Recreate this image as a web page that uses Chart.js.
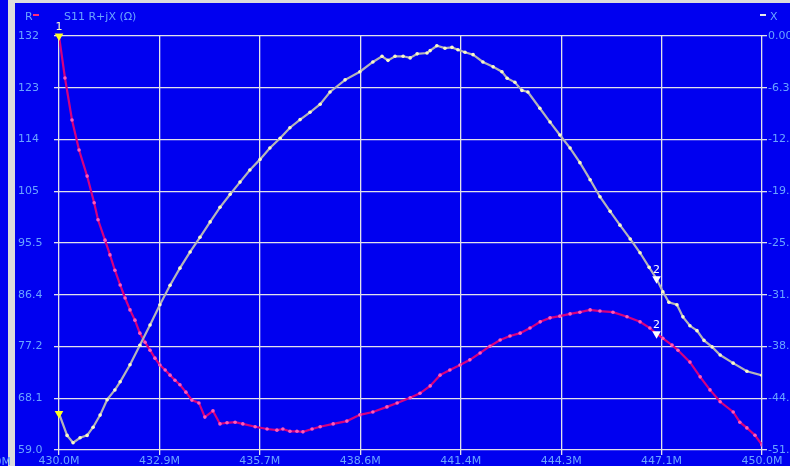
<!DOCTYPE html>
<html>
<head>
<meta charset="utf-8">
<script src="https://cdn.jsdelivr.net/npm/chart.js@4/dist/chart.umd.min.js"></script>
<style>
  html, body { margin: 0; padding: 0; background: #0000f0; overflow: hidden; }
  #wrap { width: 790px; height: 466px; position: relative; }
  canvas { display: block; }
</style>
</head>
<body>
<div id="wrap"><canvas id="c" width="790" height="466"></canvas></div>
<script>
// S11 impedance sweep, 430–450 MHz
const rFreq = [430.00,430.17,430.37,430.57,430.80,431.00,431.11,431.31,431.45,431.59,431.74,431.88,432.02,432.16,432.30,432.45,432.59,432.73,432.87,433.02,433.16,433.30,433.44,433.61,433.78,433.98,434.15,434.38,434.58,434.78,435.01,435.23,435.58,435.92,436.20,436.37,436.57,436.77,436.94,437.20,437.43,437.80,438.19,438.56,438.93,439.33,439.62,439.99,440.27,440.56,440.84,441.12,441.41,441.69,441.98,442.26,442.55,442.83,443.12,443.40,443.69,443.97,444.25,444.54,444.82,445.11,445.39,445.76,446.16,446.53,446.81,447.00,447.18,447.44,447.61,447.95,448.24,448.52,448.81,449.18,449.37,449.57,449.80,450.00];
const rOhm = [132.0,124.6,117.2,111.9,107.3,102.6,99.6,96.0,93.4,90.7,88.1,85.8,83.7,81.9,79.6,78.0,76.6,75.2,74.0,73.1,72.2,71.3,70.5,69.2,67.8,67.3,64.8,65.9,63.6,63.8,63.9,63.6,63.1,62.7,62.5,62.7,62.3,62.3,62.2,62.7,63.1,63.6,64.1,65.2,65.7,66.6,67.3,68.2,69.0,70.3,72.2,73.1,74.0,74.9,76.1,77.3,78.4,79.1,79.6,80.5,81.6,82.3,82.6,83.0,83.3,83.7,83.5,83.3,82.5,81.6,80.5,79.5,78.7,77.5,76.6,74.5,71.9,69.6,67.5,65.7,63.9,62.9,61.6,59.9];

const xFreq = [430.00,430.23,430.40,430.60,430.80,430.97,431.17,431.37,431.59,431.74,432.02,432.30,432.59,432.87,433.16,433.44,433.73,434.01,434.30,434.58,434.87,435.15,435.43,435.72,436.00,436.29,436.57,436.86,437.14,437.43,437.71,438.14,438.56,438.93,439.19,439.36,439.56,439.79,439.99,440.19,440.47,440.56,440.75,440.98,441.18,441.35,441.55,441.78,442.06,442.35,442.60,442.75,442.97,443.17,443.34,443.68,443.97,444.25,444.54,444.82,445.11,445.39,445.68,445.96,446.25,446.53,446.79,447.00,447.18,447.35,447.58,447.75,447.95,448.15,448.35,448.58,448.81,449.18,449.57,450.00];
const xOhm = [-46.5,-49.2,-50.1,-49.5,-49.2,-48.2,-46.7,-44.8,-43.6,-42.6,-40.5,-38.1,-35.6,-33.1,-30.7,-28.6,-26.6,-24.8,-22.9,-21.1,-19.5,-18.0,-16.5,-15.2,-13.8,-12.6,-11.3,-10.3,-9.4,-8.4,-6.9,-5.4,-4.4,-3.2,-2.5,-3.0,-2.5,-2.5,-2.7,-2.2,-2.1,-1.8,-1.2,-1.5,-1.4,-1.7,-2.0,-2.3,-3.2,-3.8,-4.4,-5.2,-5.7,-6.7,-6.9,-8.9,-10.6,-12.2,-13.8,-15.6,-17.7,-19.8,-21.6,-23.3,-25.0,-26.7,-28.5,-29.9,-31.5,-32.8,-33.1,-34.6,-35.7,-36.3,-37.5,-38.3,-39.3,-40.3,-41.3,-41.8];

// markers 1 and 2
const markerNames = ['1', '2'];
const markerFreq = [430.0, 447.0];
const markerR = [132.0, 79.5];
const markerX = [-46.5, -29.9];
const markerColors = ['#ffff20', '#ffffff'];

// axis ticks
const xTickVals = [430, 432.857, 435.714, 438.571, 441.429, 444.286, 447.143, 450];
const xTickLabels = ['430.0M', '432.9M', '435.7M', '438.6M', '441.4M', '444.3M', '447.1M', '450.0M'];
const rTickVals = [59, 68.125, 77.25, 86.375, 95.5, 104.625, 113.75, 122.875, 132];
const rTickLabels = ['59.0', '68.1', '77.2', '86.4', '95.5', '105', '114', '123', '132'];
const xrTickVals = [-51, -44.625, -38.25, -31.875, -25.5, -19.125, -12.75, -6.375, 0];
const xrTickLabels = ['-51.0', '-44.6', '-38.3', '-31.9', '-25.5', '-19.1', '-12.8', '-6.38', '0.00'];

const BG = '#0000f0';
const GRID = '#e2e2ea';
const TXT = '#6aa4ff';
const FONT = { family: '"DejaVu Sans", Verdana, sans-serif', size: 11 };
const FONT_CSS = '11px "DejaVu Sans", Verdana, sans-serif';

const frame = {
  id: 'frame',
  beforeDraw(chart) {
    const ctx = chart.ctx;
    ctx.save();
    ctx.fillStyle = BG;
    ctx.fillRect(0, 0, chart.width, chart.height);
    ctx.fillStyle = '#dcdcdc';
    ctx.fillRect(8, 0, 7, chart.height);
    ctx.fillRect(8, 0, chart.width - 8, 3);
    ctx.restore();
  },
  afterDraw(chart) {
    const ctx = chart.ctx;
    ctx.save();
    ctx.font = FONT_CSS;
    ctx.textBaseline = 'middle';
    // legend row
    ctx.fillStyle = TXT;
    ctx.textAlign = 'left';
    ctx.fillText('R', 25, 17);
    ctx.fillText('S11 R+jX (\u03A9)', 64, 17);
    ctx.fillText('X', 770, 17);
    ctx.fillStyle = '#ff2a7a';
    ctx.fillRect(33, 14, 6, 2);
    ctx.fillStyle = '#e8e8e8';
    ctx.fillRect(760, 14, 6, 2);
    // neighbouring panel edge label
    ctx.fillStyle = TXT;
    ctx.textAlign = 'right';
    ctx.fillText('450.0M', 11, 462);
    ctx.restore();
  },
  afterDatasetsDraw(chart) {
    // marker numbers above the R and X marker triangles
    const ctx = chart.ctx;
    ctx.save();
    ctx.font = FONT_CSS;
    ctx.textAlign = 'center';
    ctx.textBaseline = 'bottom';
    chart.data.datasets.forEach((ds, di) => {
      if (!ds.isMarker) return;
      const meta = chart.getDatasetMeta(di);
      meta.data.forEach((pt, i) => {
        if (ds.yAxisID === 'yX' && i === 0) return;
        ctx.fillStyle = i === 0 ? '#ffffc8' : '#ffffff';
        ctx.fillText(markerNames[i], pt.x, pt.y - 3);
      });
    });
    ctx.restore();
  }
};

const pts = (fs, vs) => fs.map((f, i) => ({ x: f, y: vs[i] }));

new Chart(document.getElementById('c'), {
  type: 'line',
  data: {
    datasets: [
      {
        label: 'R', data: pts(rFreq, rOhm), yAxisID: 'yR', order: 2,
        borderColor: '#d6007f', borderWidth: 2.2, tension: 0,
        pointRadius: 1.8, pointBorderWidth: 0, pointBackgroundColor: '#ff5ab8'
      },
      {
        label: 'X', data: pts(xFreq, xOhm), yAxisID: 'yX', order: 1,
        borderColor: '#b4b4b8', borderWidth: 2.2, tension: 0,
        pointRadius: 1.8, pointBorderWidth: 0, pointBackgroundColor: '#f8f8c8'
      },
      {
        label: 'R markers', isMarker: true, data: pts(markerFreq, markerR), yAxisID: 'yR',
        showLine: false, pointStyle: 'triangle', rotation: 180, pointRadius: 5, clip: false,
        pointBorderWidth: 0, pointBackgroundColor: markerColors, order: 0
      },
      {
        label: 'X markers', isMarker: true, data: pts(markerFreq, markerX), yAxisID: 'yX',
        showLine: false, pointStyle: 'triangle', rotation: 180, pointRadius: 5, clip: false,
        pointBorderWidth: 0, pointBackgroundColor: markerColors, order: 0
      }
    ]
  },
  options: {
    responsive: false,
    animation: false,
    devicePixelRatio: 1,
    events: [],
    layout: { padding: { left: 18, top: 36, right: 0, bottom: 0 } },
    plugins: { legend: { display: false }, tooltip: { enabled: false } },
    scales: {
      x: {
        type: 'linear', position: 'bottom', min: 430, max: 450,
        afterFit(s) { s.height = 16; },
        afterBuildTicks(s) { s.ticks = xTickVals.map(v => ({ value: v })); },
        ticks: { autoSkip: false, maxRotation: 0, padding: 0, color: TXT, font: FONT,
                 callback: (v, i) => xTickLabels[i] },
        grid: { color: GRID, lineWidth: 1.3, tickLength: 5 },
        border: { display: false }
      },
      yR: {
        type: 'linear', position: 'left', min: 59, max: 132,
        afterFit(s) { s.width = 41; },
        afterBuildTicks(s) { s.ticks = rTickVals.map(v => ({ value: v })); },
        ticks: { autoSkip: false, crossAlign: 'far', padding: 1, color: TXT, font: FONT,
                 callback: (v, i) => rTickLabels[i] },
        grid: { color: GRID, lineWidth: 1.3, tickLength: 5 },
        border: { display: false }
      },
      yX: {
        type: 'linear', position: 'right', min: -51, max: 0,
        afterFit(s) { s.width = 28; },
        afterBuildTicks(s) { s.ticks = xrTickVals.map(v => ({ value: v })); },
        ticks: { autoSkip: false, crossAlign: 'near', padding: 1, color: TXT, font: FONT,
                 callback: (v, i) => xrTickLabels[i] },
        grid: { color: GRID, lineWidth: 1.3, tickLength: 5, drawOnChartArea: false },
        border: { display: false }
      }
    }
  },
  plugins: [frame]
});
</script>
</body>
</html>
